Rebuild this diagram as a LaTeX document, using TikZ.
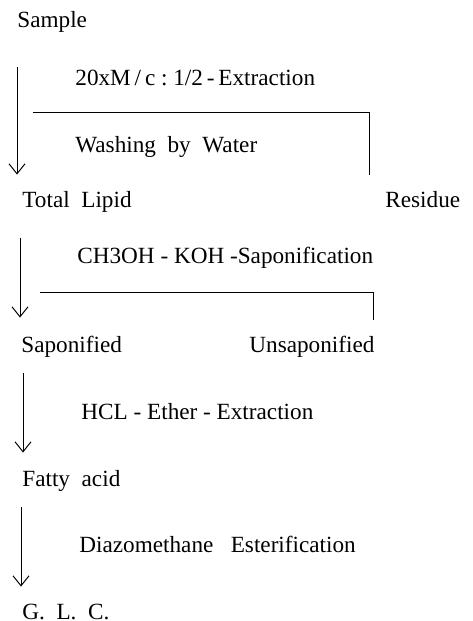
\documentclass[tikz,border=0pt]{standalone}
\usepackage{fontspec}
\setmainfont{Liberation Serif}
\usetikzlibrary{arrows.meta}

\begin{document}
\begin{tikzpicture}[x=0.5pt, y=-0.5pt,
    lbl/.style={anchor=base west, inner sep=0, text height=8pt, text depth=2.5pt, font=\fontsize{11.6}{13}\selectfont},
    flow/.style={line width=0.5pt, -{Straight Barb[length=5pt, width=8pt]}},
    branch/.style={line width=0.5pt}]
  \useasboundingbox (0,0) rectangle (472,621);

  \node[lbl] (sample) at (17,27) {Sample};
  \node[lbl] (extr) at (75,85) {20xM\,/\,c\ :\ 1/2\,-\,Extraction};
  \node[lbl] (wash) at (75,152) {Washing\ \ by\ \ Water};
  \node[lbl] (lipid) at (22,207) {Total\ \ Lipid};
  \node[lbl] (residue) at (385,207) {Residue};
  \node[lbl] (sapstep) at (77,263) {CH3OH\ -\ KOH\ -Saponification};
  \node[lbl] (sapon) at (21,352) {Saponified};
  \node[lbl] (unsapon) at (249,352) {Unsaponified};
  \node[lbl] (hcl) at (81,419) {HCL\ -\ Ether\ -\ Extraction};
  \node[lbl] (fatty) at (22,486) {Fatty\ \ acid};
  \node[lbl] (diazo) at (79,552) {Diazomethane\ \ \ Esterification};
  \node[lbl] (glc) at (22,619) {G.\ \ L.\ \ C.};

  \draw[flow, shorten <=17.5pt, shorten >=8pt] (sample.south west) -- (sample.south west |- lipid.north);
  \draw[flow, shorten <=13pt, shorten >=9pt] ([xshift=-1pt]lipid.south west) -- ([xshift=-1pt]lipid.south west |- sapon.north);
  \draw[flow, shorten <=8pt, shorten >=8.5pt] ([xshift=1pt]sapon.south west) -- ([xshift=1pt]sapon.south west |- fatty.north);
  \draw[flow, shorten <=8pt, shorten >=8pt] ([xshift=-0.5pt]fatty.south west) -- ([xshift=-0.5pt]fatty.south west |- glc.north);

  \coordinate (br1) at (33,112);
  \coordinate (res1) at (369,175);
  \draw[branch] (br1) -| (res1);
  \coordinate (br2) at (40,292);
  \coordinate (uns1) at (373,320);
  \draw[branch] (br2) -| (uns1);

\end{tikzpicture}
\end{document}
